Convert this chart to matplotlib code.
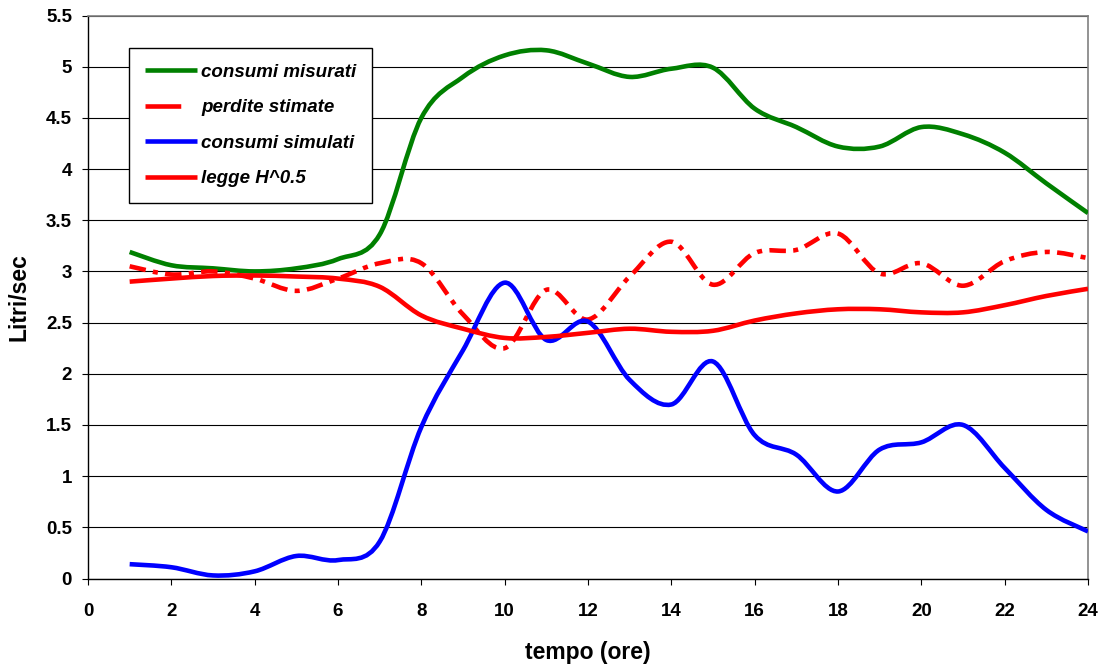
import numpy as np
import matplotlib
matplotlib.use('Agg')
import matplotlib.pyplot as plt
from matplotlib.path import Path
from matplotlib.patches import PathPatch
from matplotlib.lines import Line2D
from matplotlib.ticker import MultipleLocator, FuncFormatter

# hourly values (l/s)
ore = list(range(1, 25))
consumi_misurati = [3.19, 3.06, 3.03, 3.00, 3.03, 3.12, 3.36, 4.50, 4.90, 5.11,
                    5.16, 5.03, 4.90, 4.98, 4.99, 4.59, 4.41, 4.22, 4.22, 4.41,
                    4.34, 4.16, 3.86, 3.57]
perdite_stimate = [3.05, 2.97, 3.00, 2.93, 2.81, 2.93, 3.08, 3.08, 2.58, 2.25,
                   2.82, 2.53, 2.95, 3.29, 2.87, 3.18, 3.21, 3.37, 2.98, 3.08,
                   2.86, 3.10, 3.19, 3.13]
consumi_simulati = [0.14, 0.11, 0.03, 0.07, 0.22, 0.18, 0.36, 1.48, 2.23, 2.89,
                    2.33, 2.51, 1.94, 1.70, 2.12, 1.40, 1.21, 0.85, 1.26, 1.33,
                    1.50, 1.08, 0.67, 0.46]
legge_h05 = [2.90, 2.93, 2.955, 2.96, 2.95, 2.93, 2.85, 2.57, 2.44, 2.35,
             2.36, 2.40, 2.44, 2.41, 2.42, 2.52, 2.59, 2.63, 2.63, 2.60,
             2.60, 2.67, 2.76, 2.83]


def smooth_path(x, y):
    # cubic bezier through every point, like a spreadsheet "smoothed line"
    pts = np.column_stack([x, y]).astype(float)
    n = len(pts)
    verts = [pts[0]]
    codes = [Path.MOVETO]
    for i in range(n - 1):
        p0 = pts[max(i - 1, 0)]
        p1 = pts[i]
        p2 = pts[i + 1]
        p3 = pts[min(i + 2, n - 1)]
        verts += [p1 + (p2 - p0) / 6, p2 - (p3 - p1) / 6, p2]
        codes += [Path.CURVE4] * 3
    return Path(verts, codes)


plt.rcParams['font.family'] = ['Liberation Sans', 'DejaVu Sans']

fig = plt.figure(figsize=(11.04, 6.66), dpi=100)
ax = fig.add_axes([88 / 1104, 87.5 / 666, 1000 / 1104, 563 / 666])

lw = 3.3
dash_dot = (0, (3.6, 1.6, 1.1, 1.6))
series = [
    (consumi_misurati, '#008000', '-', 'consumi misurati'),
    (perdite_stimate, '#ff0000', dash_dot, 'perdite stimate'),
    (consumi_simulati, '#0000ff', '-', 'consumi simulati'),
    (legge_h05, '#ff0000', '-', 'legge H^0.5'),
]
handles = []
for vals, col, ls, lab in series:
    patch = PathPatch(smooth_path(ore, vals), fill=False, edgecolor=col,
                      linewidth=lw, linestyle=ls, joinstyle='round', zorder=3)
    ax.add_patch(patch)
    hls = (0, (7.8, 20)) if ls != '-' else '-'
    handles.append(Line2D([], [], color=col, lw=lw, linestyle=hls,
                          solid_capstyle='butt', dash_capstyle='butt'))

ax.set_xlim(0, 24)
ax.set_ylim(0, 5.5)
ax.xaxis.set_major_locator(MultipleLocator(2))
ax.yaxis.set_major_locator(MultipleLocator(0.5))
ax.yaxis.set_major_formatter(FuncFormatter(lambda v, p: '%g' % v))

ax.grid(axis='y', color='black', linewidth=0.8, zorder=0)
ax.set_axisbelow(True)
for s in ['top', 'right']:
    ax.spines[s].set_color('#808080')
    ax.spines[s].set_linewidth(1.2)
for s in ['left', 'bottom']:
    ax.spines[s].set_color('black')
    ax.spines[s].set_linewidth(1.0)

ax.tick_params(axis='both', direction='out', length=4.5, width=0.8,
               labelsize=13.5)
ax.tick_params(axis='x', pad=13)
ax.tick_params(axis='y', pad=7)
for t in ax.get_xticklabels() + ax.get_yticklabels():
    t.set_fontweight('bold')

ax.set_xlabel('tempo (ore)', fontsize=16.5, fontweight='bold', labelpad=15)
ax.set_ylabel('Litri/sec', fontsize=16.5, fontweight='bold', labelpad=11)

leg = ax.legend(handles, [s[3] for s in series], loc='upper left',
                bbox_to_anchor=(0.041, 0.943), borderaxespad=0,
                prop={'size': 13.5, 'weight': 'bold', 'style': 'italic'},
                handlelength=2.8, handletextpad=0.2, labelspacing=0.98,
                borderpad=0.85, fancybox=False, framealpha=1)
leg.get_frame().set_edgecolor('black')
leg.get_frame().set_linewidth(1.0)

fig.savefig('out.png', dpi=100)
